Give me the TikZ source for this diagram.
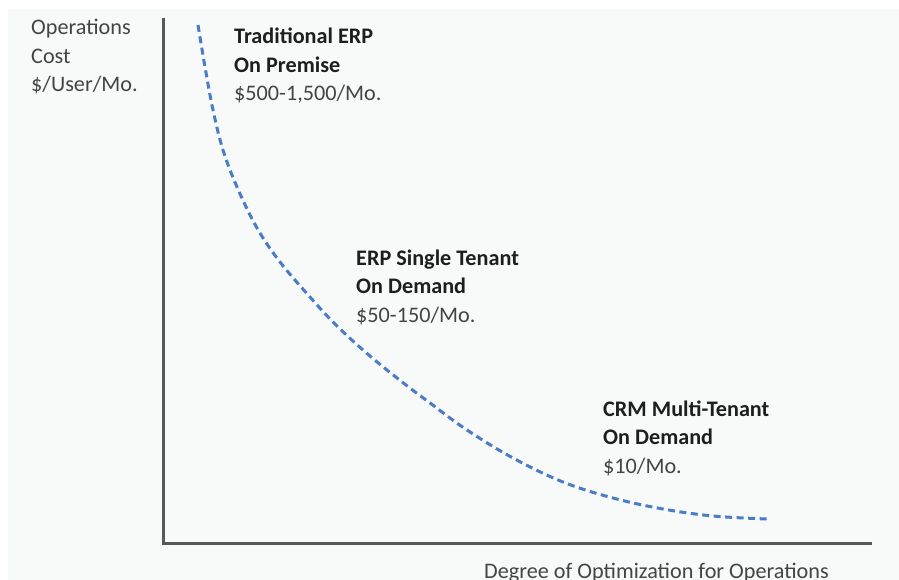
\documentclass[tikz,border=0pt]{standalone}
\usepackage{fontspec}
\setmainfont{Carlito}
\definecolor{bgpanel}{HTML}{F8F9F9}
\definecolor{axisgray}{HTML}{585858}
\definecolor{curveblue}{HTML}{4A7CC8}
\definecolor{boldtext}{HTML}{1E1E1E}
\definecolor{plaintext}{HTML}{444444}
\tikzset{
  lbl/.style={inner sep=0pt, anchor=base west, align=left, text=plaintext,
    font=\fontsize{22.2}{28.5}\selectfont},
  axisline/.style={draw=axisgray, line width=3pt},
  curveline/.style={draw=curveblue, line width=3pt, dash pattern=on 7pt off 4.5pt}
}
\begin{document}
\begin{tikzpicture}[x=1pt,y=-1pt]
\useasboundingbox (0,0) rectangle (899,580);
\fill[white] (0,0) rectangle (899,580);
\fill[bgpanel] (8,9) rectangle (899,580);
% axes
\coordinate (ytop) at (163,18);
\coordinate (origin) at (163,543);
\coordinate (xend) at (872,543);
\draw[axisline] (ytop) -- (origin) -- (xend);
% curve
\draw[curveline] plot[smooth, tension=0.6] coordinates {(198,25) (205,67) (213,110) (223,150) (237,187) (257,228) (280,262) (310,297) (333,322) (363,350) (397,378) (430,403) (467,430) (513,458) (563,482) (613,498) (663,509) (713,516) (767,519)};
% labels (base anchor = baseline of last line)
\node[lbl] (ylabel) at (31,92) {Operations\\Cost\\\$/User/Mo.};
\node[lbl] (trad) at (234,101) {\textcolor{boldtext}{\bfseries Traditional ERP}\\\textcolor{boldtext}{\bfseries On Premise}\\\$500-1,500/Mo.};
\node[lbl] (single) at (356,322) {\textcolor{boldtext}{\bfseries ERP Single Tenant}\\\textcolor{boldtext}{\bfseries On Demand}\\\$50-150/Mo.};
\node[lbl] (multi) at (603,473) {\textcolor{boldtext}{\bfseries CRM Multi-Tenant}\\\textcolor{boldtext}{\bfseries On Demand}\\\$10/Mo.};
\node[lbl] (xlabel) at (484,578) {Degree of Optimization for Operations};
\end{tikzpicture}
\end{document}
